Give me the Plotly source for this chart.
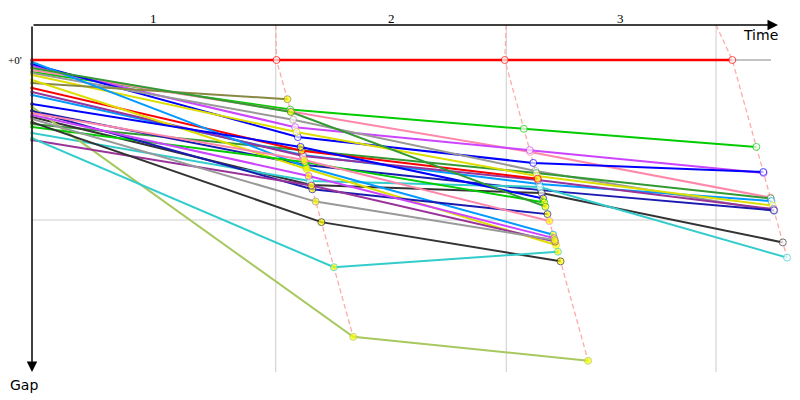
import plotly.graph_objects as go

# ---------------- data (times / gaps in seconds) ----------------
leader_times = [0, 331, 640, 948]          # leader's race time at start and at end of laps 1..3
lap_grid_times = [330, 642, 926]           # vertical lap grid lines
lap_labels = ["1", "2", "3"]
lap_label_times = [164, 486, 797]
gap_gridlines = [0, 60]

RED, BLUE, DBLUE, DODGER = "#FF0000", "#0000FF", "#1A1AB0", "#0099FF"
GREEN, DGREEN, PINK = "#00CC00", "#339933", "#FF88AA"
PURPLE, MAGENTA, GRAY = "#993399", "#CC44FF", "#999999"
BLACK, OLIVE, YELLOW = "#333333", "#888844", "#DDDD00"
YGREEN, CYAN = "#A8C860", "#33CCCC"

rider_colors = [RED, GREEN, PINK, MAGENTA, BLUE, GRAY, DGREEN, DODGER, YELLOW, PURPLE,
                DBLUE, BLACK, CYAN,
                OLIVE, RED, DODGER, YELLOW, YGREEN, BLUE, GREEN, DGREEN, DBLUE, PINK,
                MAGENTA, PURPLE, GRAY, BLACK, CYAN]
start_gaps = [0, 4.5, 3.75, 2.25, 1.5, 4.9, 24, 13.1, 5.6, 12,
              19.1, 21.4, 27.4,
              8.6, 10.5, 0.75, 7.5, 17.6, 16.5, 25.1, 3, 19.1, 19.9,
              20.6, 30, 22.1, 23.3, 29.3]
lap1_gaps = [0, 18.6, 19.3, 25.2, 28.9, 22.4, 33.8, 35.6, 27, 36,
             39.4, 46.9, 45.4,
             14.7, 34, 40.1, 40.9, 103.8, 32.6, 38.3, 19.5, 48.5, 37.5,
             43.5, 47.1, 53.1, 60.8, 77.7]
lap2_gaps = [0, 25.8, 34.5, 33.8, 38.6, 41.6, 42.4, 46.5, 43.5, 45,
             48.8, 49.9, 47.6,
             None, 44.5, 65.5, 69.4, 112.8, 51.9, 53.4, 55, 57.8, 60.4,
             66.8, 68.1, 67.5, 75.5, 71.9]
lap3_gaps = [0, 32.6, 51.6, 42.4, 42, 56.6, 51.9, 52.9, 54.6, 55.9,
             56.4, 68.4, 74.1,
             None, None, None, None, None, None, None, None, None, None,
             None, None, None, None, None]
lapped = [False] * 13 + [True] * 15   # yellow-filled markers

# ---------------- geometry of the picture ----------------
OFF = 8                 # default page margin of the html body
W, H = 800 - OFF, 400 - OFF
PL, PR, PT, PB = 32, 800, 25, 372   # plot area in window pixels
SX = 0.7387            # px per second along time
SY = 160 / 60          # px per second along gap
x_max = (PR - PL) / SX
y_top = -(60 - PT) / SY
y_bot = (PB - 60) / SY


def px(xw):
    return (xw - PL) / (PR - PL)


def py(yw):
    return (PB - yw) / (PB - PT)


fig = go.Figure()

# grid lines
shapes = []
for g in gap_gridlines:
    shapes.append(dict(type="line", xref="x", yref="y", x0=0, x1=(771 - PL) / SX, y0=g, y1=g,
                       line=dict(color="#888888" if g == 0 else "#CCCCCC", width=1), layer="below"))
for t in lap_grid_times:
    shapes.append(dict(type="line", xref="x", yref="y", x0=t, x1=t, y0=y_top, y1=y_bot + 1.2,
                       line=dict(color="#CCCCCC", width=1), layer="below"))

# dashed lap-crossing lines
all_laps = [lap1_gaps, lap2_gaps, lap3_gaps]
for i, laps in enumerate(all_laps):
    gmax = max(g for g in laps if g is not None)
    fig.add_trace(go.Scatter(
        x=[lap_grid_times[i], leader_times[i + 1], leader_times[i + 1] + gmax],
        y=[y_top, 0, gmax], mode="lines",
        line=dict(color="#FFAAAA", width=1.3, dash="5px,3px"),
        hoverinfo="skip", showlegend=False, cliponaxis=False))

# rider traces (leader drawn last so it sits on top)
order = list(range(1, len(rider_colors))) + [0]
for r in order:
    gaps = [start_gaps[r], lap1_gaps[r], lap2_gaps[r], lap3_gaps[r]]
    xs, ys = [], []
    for k, g in enumerate(gaps):
        if g is None:
            break
        xs.append(leader_times[k] + (g if k > 0 else 0))
        ys.append(g)
    col = rider_colors[r]
    fill = "#FFFF00" if lapped[r] else "#FFFFFF"
    fig.add_trace(go.Scatter(
        x=xs, y=ys, mode="lines+markers",
        line=dict(color=col, width=2.5 if r == 0 else 2),
        marker=dict(size=[3] + [7] * (len(xs) - 1), color=fill,
                    line=dict(color=col, width=1)),
        hoverinfo="skip", showlegend=False, cliponaxis=False))

# axes drawn as arrows
ann = []
ann.append(dict(x=(778 - PL) / SX, y=y_top, xref="x", yref="y", ax=-(778 - PL), ay=0,
                text="", showarrow=True, arrowhead=2, arrowsize=1.4, arrowwidth=1.5,
                arrowcolor="black"))
ann.append(dict(x=0, y=y_bot, xref="x", yref="y", ax=0, ay=-(PB - PT),
                text="", showarrow=True, arrowhead=2, arrowsize=1.4, arrowwidth=1.5,
                arrowcolor="black"))
for lab, t in zip(lap_labels, lap_label_times):
    ann.append(dict(x=t, y=py(18), xref="x", yref="paper", text=lab,
                    xanchor="center", yanchor="middle", showarrow=False,
                    font=dict(family="Liberation Serif", size=13, color="#000000")))
ann.append(dict(x=px(760), y=py(35), xref="paper", yref="paper",
                text="Time", xanchor="center", yanchor="middle", showarrow=False,
                font=dict(family="DejaVu Sans", size=14, color="#000000")))
ann.append(dict(x=px(24), y=py(385), xref="paper", yref="paper",
                text="Gap", xanchor="center", yanchor="middle", showarrow=False,
                font=dict(family="DejaVu Sans", size=14, color="#000000")))
ann.append(dict(x=px(15), y=0, xref="paper", yref="y",
                text="+0'", xanchor="center", yanchor="middle", showarrow=False,
                font=dict(family="Liberation Serif", size=11, color="#000000")))

fig.update_layout(
    width=W, height=H,
    margin=dict(l=PL - OFF, r=800 - PR, t=PT - OFF, b=400 - PB, pad=0, autoexpand=False),
    paper_bgcolor="white", plot_bgcolor="white",
    xaxis=dict(range=[0, x_max], visible=False, fixedrange=True),
    yaxis=dict(range=[y_bot, y_top], visible=False, fixedrange=True),
    shapes=shapes, annotations=ann, showlegend=False,
)

fig.write_html("out.html")
